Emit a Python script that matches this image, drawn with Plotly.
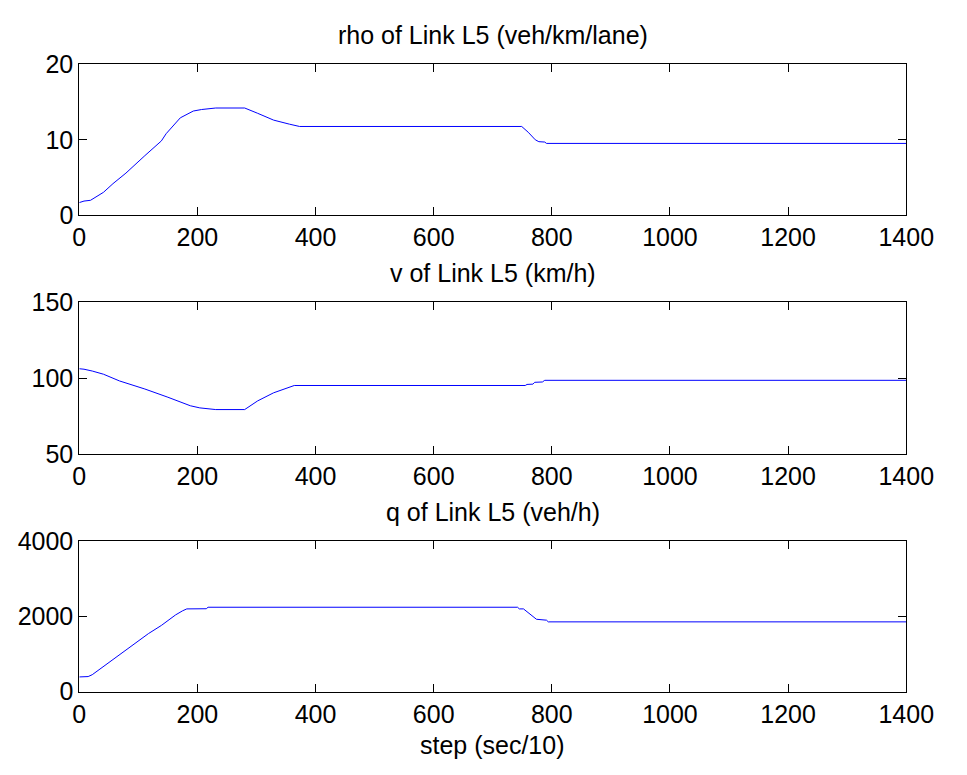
import plotly.graph_objects as go

# ---- data ----
rho_step = [0, 8, 19, 27, 41, 57, 79, 111, 139, 147, 171, 193, 207, 231, 280, 302, 329, 356, 373,
            749, 760, 772, 778, 788, 791, 1400]
rho_val = [1.7, 1.9, 2.0, 2.4, 3.06, 4.2, 5.6, 7.9, 9.85, 10.8, 12.9, 13.8, 14.0, 14.2, 14.2, 13.5, 12.6, 12.06, 11.76,
           11.76, 11.0, 10.0, 9.75, 9.7, 9.52, 9.52]

v_step = [0, 8, 22, 41, 68, 90, 111, 150, 188, 204, 231, 280, 302, 329, 364,
          755, 758, 768, 771, 784, 788, 1400]
v_val = [106.3, 106.0, 104.8, 102.7, 98.3, 95.6, 93.0, 87.6, 82.0, 80.6, 79.5, 79.5, 85.2, 90.5, 95.3,
         95.3, 96.0, 96.2, 97.4, 97.6, 98.7, 98.7]

q_step = [0, 15, 22, 40, 60, 84, 117, 139, 163, 175, 182, 215, 218,
          742, 745, 752, 774, 791, 794, 1400]
q_val = [390, 400, 450, 660, 880, 1160, 1542, 1760, 2040, 2150, 2200, 2204, 2244,
         2244, 2200, 2200, 1924, 1900, 1855, 1855]

titles = ["rho of Link L5 (veh/km/lane)", "v of Link L5 (km/h)", "q of Link L5 (veh/h)"]
x_label = "step (sec/10)"
x_ticks = [0, 200, 400, 600, 800, 1000, 1200, 1400]
y_ranges = [[0, 20], [50, 150], [0, 4000]]
y_ticks = [[0, 10, 20], [50, 100, 150], [0, 2000, 4000]]

# ---- layout geometry (pixels) ----
W, H = 967, 775
X0, X1 = 75, 933
ROWS = [(52, 209), (299, 457), (547, 703)]
FONT = "Liberation Sans, Arial, sans-serif"
FS = 25

fig = go.Figure()
series = [(rho_step, rho_val), (v_step, v_val), (q_step, q_val)]
for i, (xs, ys) in enumerate(series):
    sfx = "" if i == 0 else str(i + 1)
    fig.add_trace(go.Scatter(x=xs, y=ys, mode="lines", line=dict(color="#0000ff", width=1),
                             xaxis="x" + sfx, yaxis="y" + sfx, showlegend=False, hoverinfo="skip"))

ax_common = dict(showline=True, linecolor="black", linewidth=1, mirror="ticks",
                 ticks="inside", ticklen=8, tickwidth=1, tickcolor="black",
                 showgrid=False, zeroline=False,
                 tickfont=dict(family=FONT, size=FS, color="black"))

layout = dict(width=W, height=H, margin=dict(l=0, r=0, t=0, b=0),
              paper_bgcolor="white", plot_bgcolor="white", font=dict(family=FONT, size=FS, color="black"))
annotations = []
for i, (top, bot) in enumerate(ROWS):
    sfx = "" if i == 0 else str(i + 1)
    layout["xaxis" + sfx] = dict(ax_common, domain=[X0 / W, X1 / W], range=[0, 1400],
                                 tickvals=x_ticks, anchor="y" + sfx)
    layout["yaxis" + sfx] = dict(ax_common, domain=[1 - bot / H, 1 - top / H], range=y_ranges[i],
                                 tickvals=y_ticks[i], anchor="x" + sfx)
    annotations.append(dict(text=titles[i], x=(X0 + X1) / 2 / W, y=1 - (top - 30) / H,
                            xref="paper", yref="paper", xanchor="center", yanchor="middle",
                            showarrow=False, font=dict(family=FONT, size=FS, color="black")))
annotations.append(dict(text=x_label, x=(X0 + X1) / 2 / W, y=1 - 758 / H,
                        xref="paper", yref="paper", xanchor="center", yanchor="middle",
                        showarrow=False, font=dict(family=FONT, size=FS, color="black")))
layout["annotations"] = annotations
fig.update_layout(**layout)

fig.write_html("out.html")
